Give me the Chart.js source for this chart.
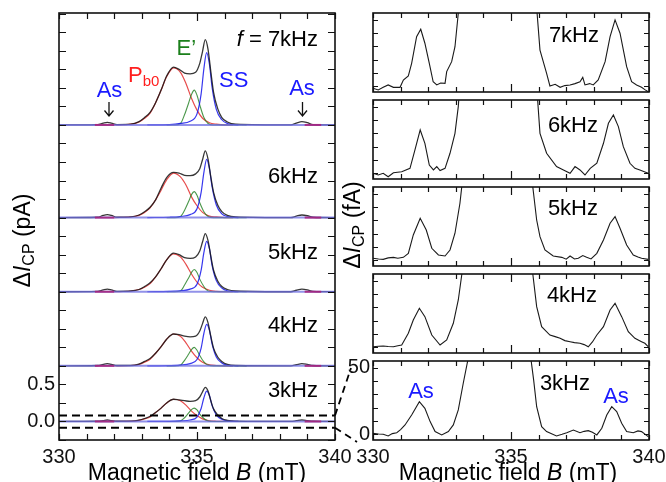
<!DOCTYPE html>
<html><head><meta charset="utf-8">
<script src="https://cdn.jsdelivr.net/npm/chart.js@4/dist/chart.umd.min.js"></script>
<style>
html,body{margin:0;padding:0;background:#fff;}
#wrap{position:relative;width:666px;height:482px;overflow:hidden;background:#fff;}
#wrap canvas{position:absolute;}
</style></head><body>
<div id="wrap"></div>
<script>
// ---------------- DATA ----------------
const freqLabels = ['7kHz', '6kHz', '5kHz', '4kHz', '3kHz'];
const offsets = [4.0, 2.75, 1.75, 0.75, 0];          // vertical offsets of the stacked spectra (pA)
const xTickLabels = [330, 335, 340];
const leftYLabels = [0, 0.5];
const rightYLabels = [0, 50];
const zoomBoxLevels = [0.08, -0.085];

const fieldsTotal = [330.0, 331.4, 331.6, 331.75, 331.9, 332.1, 332.6, 332.9, 333.1, 333.3, 333.5, 333.7, 333.9, 334.15, 334.35, 334.55, 334.75, 334.95, 335.1, 335.2, 335.3, 335.4, 335.5, 335.6, 335.75, 335.9, 336.1, 336.4, 338.4, 338.6, 338.8, 339.0, 339.2, 340.0];
const total7k = [0, 0.005, 0.025, 0.035, 0.025, 0.005, 0.01, 0.045, 0.10, 0.17, 0.30, 0.47, 0.66, 0.78, 0.75, 0.70, 0.69, 0.71, 0.83, 0.99, 1.15, 1.02, 0.72, 0.44, 0.22, 0.10, 0.04, 0.01, 0, 0.025, 0.045, 0.03, 0.005, 0];
const total6k = [0, 0.005, 0.03, 0.04, 0.03, 0.005, 0.01, 0.035, 0.08, 0.14, 0.24, 0.40, 0.54, 0.61, 0.60, 0.57, 0.565, 0.59, 0.66, 0.78, 0.90, 0.79, 0.55, 0.34, 0.17, 0.08, 0.03, 0.01, 0, 0.02, 0.035, 0.025, 0.005, 0];
const total5k = [0, 0.005, 0.025, 0.035, 0.025, 0.005, 0.01, 0.03, 0.07, 0.12, 0.20, 0.31, 0.43, 0.52, 0.50, 0.46, 0.45, 0.47, 0.55, 0.67, 0.785, 0.69, 0.48, 0.29, 0.145, 0.07, 0.03, 0.01, 0, 0.02, 0.035, 0.025, 0.005, 0];
const total4k = [0, 0.005, 0.02, 0.03, 0.02, 0.005, 0.005, 0.025, 0.06, 0.10, 0.17, 0.26, 0.36, 0.43, 0.42, 0.40, 0.39, 0.40, 0.47, 0.57, 0.66, 0.58, 0.40, 0.24, 0.12, 0.06, 0.02, 0.005, 0, 0.015, 0.03, 0.02, 0.005, 0];
const total3k = [0, 0.003, 0.012, 0.02, 0.012, 0.003, 0.004, 0.018, 0.04, 0.07, 0.12, 0.18, 0.25, 0.30, 0.29, 0.28, 0.27, 0.28, 0.33, 0.40, 0.46, 0.41, 0.28, 0.17, 0.09, 0.04, 0.015, 0.004, 0, 0.01, 0.02, 0.012, 0.003, 0];

const fieldsPb0 = [332.0, 332.6, 332.9, 333.1, 333.3, 333.5, 333.7, 333.9, 334.15, 334.4, 334.6, 334.8, 335.0, 335.2, 335.45, 335.7, 336.0, 336.3];
const pb0_7k = [0, 0.01, 0.04, 0.09, 0.16, 0.30, 0.47, 0.65, 0.77, 0.71, 0.56, 0.36, 0.20, 0.09, 0.03, 0.01, 0, 0];
const pb0_6k = [0, 0.01, 0.03, 0.07, 0.13, 0.24, 0.37, 0.51, 0.60, 0.55, 0.44, 0.28, 0.16, 0.07, 0.02, 0.01, 0, 0];
const pb0_5k = [0, 0.01, 0.03, 0.06, 0.11, 0.20, 0.31, 0.43, 0.51, 0.47, 0.37, 0.24, 0.13, 0.06, 0.02, 0.005, 0, 0];
const pb0_4k = [0, 0.005, 0.02, 0.05, 0.09, 0.17, 0.26, 0.36, 0.43, 0.40, 0.31, 0.20, 0.11, 0.05, 0.015, 0.005, 0, 0];
const pb0_3k = [0, 0.005, 0.015, 0.035, 0.06, 0.12, 0.18, 0.25, 0.30, 0.28, 0.22, 0.14, 0.08, 0.035, 0.01, 0.003, 0, 0];

const fieldsE = [333.9, 334.2, 334.4, 334.55, 334.7, 334.8, 334.9, 335.0, 335.1, 335.25, 335.4, 335.6, 336.0, 336.8];
const e_7k = [0, 0, 0.02, 0.14, 0.30, 0.41, 0.47, 0.40, 0.27, 0.10, 0.02, 0, 0, 0];
const e_6k = [0, 0, 0.015, 0.10, 0.22, 0.31, 0.35, 0.30, 0.20, 0.08, 0.015, 0, 0, 0];
const e_5k = [0, 0, 0.01, 0.09, 0.19, 0.26, 0.30, 0.26, 0.17, 0.07, 0.01, 0, 0, 0];
const e_4k = [0, 0, 0.01, 0.075, 0.16, 0.22, 0.25, 0.21, 0.14, 0.055, 0.01, 0, 0, 0];
const e_3k = [0, 0, 0.007, 0.05, 0.115, 0.16, 0.18, 0.155, 0.10, 0.04, 0.007, 0, 0, 0];

const fieldsSS = [333.2, 334.0, 334.4, 334.75, 335.0, 335.15, 335.25, 335.35, 335.45, 335.55, 335.7, 335.9, 336.1, 336.5];
const ss_7k = [0, 0.005, 0.02, 0.05, 0.15, 0.42, 0.76, 0.975, 0.82, 0.50, 0.21, 0.07, 0.02, 0];
const ss_6k = [0, 0.005, 0.015, 0.04, 0.12, 0.34, 0.61, 0.785, 0.66, 0.41, 0.17, 0.05, 0.015, 0];
const ss_5k = [0, 0.004, 0.013, 0.035, 0.10, 0.29, 0.53, 0.68, 0.58, 0.35, 0.15, 0.05, 0.013, 0];
const ss_4k = [0, 0.003, 0.01, 0.03, 0.085, 0.24, 0.44, 0.56, 0.48, 0.29, 0.12, 0.04, 0.01, 0];
const ss_3k = [0, 0.002, 0.008, 0.02, 0.06, 0.175, 0.32, 0.41, 0.35, 0.21, 0.09, 0.03, 0.008, 0];

const baselineFields = [330, 340];
const asBaseLeft = [331.3, 332.0];
const asBaseRight = [338.9, 339.5];

// right-hand magnified spectra (fA)
const rf7 = [330.0, 330.19, 330.37, 330.55, 330.74, 330.98, 331.10, 331.28, 331.40, 331.58, 331.73, 331.88, 332.04, 332.18, 332.31, 332.45, 332.61, 332.67, 332.85, 332.97, 333.09, 333.25, 333.6, 334.2, 335.3, 335.7, 335.85, 336.05, 336.29, 336.41, 336.6, 336.78, 336.95, 337.14, 337.32, 337.50, 337.60, 337.68, 337.85, 337.98, 338.16, 338.41, 338.59, 338.77, 338.95, 339.19, 339.37, 339.55, 339.73, 339.85, 339.97];
const rv7 = [-1.5, -2.8, -0.8, 1.0, -0.8, -0.8, 4.7, 7.7, 17.2, 37.2, 42.8, 32.3, 17.2, 3.4, 1.0, 2.5, 2.2, 11, 18.5, 29.7, 54.8, 120, 400, 800, 1150, 400, 80, 27.2, 9.7, 0.2, 1.5, -0.8, 0.5, 1.0, 2.0, 3.4, 6.7, 1.0, 2.0, 1.0, 4.7, 18.5, 37.2, 49.8, 39.8, 14.7, 3.4, 1.0, -0.8, -2.5, -4.1];
const rf6 = [330.0, 330.19, 330.37, 330.55, 330.74, 331.04, 331.34, 331.52, 331.71, 331.88, 332.04, 332.19, 332.31, 332.43, 332.61, 332.79, 332.97, 333.09, 333.3, 333.7, 334.3, 335.3, 335.7, 335.88, 336.05, 336.29, 336.65, 336.90, 337.14, 337.32, 337.50, 337.68, 337.87, 338.11, 338.35, 338.53, 338.71, 338.89, 339.07, 339.31, 339.49, 339.67, 339.97];
const rv6 = [0.0, -1.3, 0.0, -2.6, 0.4, 1.2, 3.7, 17.5, 32.5, 22.5, 6.2, 2.5, 5.0, 2.0, 3.7, 15, 30, 50, 110, 400, 800, 1100, 300, 80, 30, 15, 5, 2.5, 0, 5, 2.5, -1.3, 3.7, 7.5, 22.5, 37.5, 43.8, 35, 20, 7.5, 3.7, 2.5, 0];
const rf5 = [330.0, 330.2, 330.37, 330.55, 330.74, 330.9, 331.10, 331.28, 331.46, 331.71, 331.93, 332.13, 332.37, 332.61, 332.79, 332.97, 333.15, 333.35, 333.7, 334.3, 335.3, 335.6, 335.79, 335.93, 336.05, 336.23, 336.53, 336.84, 337.0, 337.14, 337.3, 337.44, 337.6, 337.74, 337.9, 338.11, 338.35, 338.59, 338.77, 338.95, 339.19, 339.43, 339.6, 339.73, 339.97];
const rv5 = [1.5, 1.0, 0.7, 1.8, 2.2, 1.5, 2.2, 5.2, 19, 31.5, 22.7, 9, 4, 3.2, 7.7, 20.3, 42.8, 80, 400, 800, 1100, 300, 55, 30.2, 17.7, 7.7, 3.2, 2.2, 0.8, 3.2, 1.0, 1.5, 3.5, 2.2, 1.0, 5.2, 15.2, 27.8, 32.8, 24, 11.5, 4, 2.5, 1.5, 0.7];
const rf4 = [330.0, 330.2, 330.37, 330.55, 330.74, 330.9, 331.04, 331.28, 331.46, 331.68, 331.88, 332.13, 332.43, 332.67, 332.91, 333.09, 333.22, 333.4, 333.8, 334.4, 335.3, 335.6, 335.79, 335.93, 336.11, 336.41, 336.6, 336.78, 336.95, 337.14, 337.3, 337.50, 337.65, 337.80, 337.95, 338.11, 338.35, 338.59, 338.77, 339.01, 339.25, 339.49, 339.73, 339.85, 339.97];
const rv4 = [0.4, 0.8, 1.0, 0.6, 0.4, 1.2, 1.7, 10.5, 20.5, 29.3, 23, 9.2, 1.7, 5.5, 18, 35.5, 55, 120, 450, 850, 1100, 300, 55, 30.5, 15.5, 9.2, 8, 6.7, 5, 4.2, 3.5, 3, 2, 0.4, 4, 9.2, 15.5, 28, 33, 23, 11.7, 6.7, 4.2, 3, 0.4];
const rf3 = [330.0, 330.2, 330.37, 330.55, 330.7, 330.86, 331.0, 331.16, 331.40, 331.68, 331.88, 332.07, 332.25, 332.49, 332.73, 332.91, 333.09, 333.27, 333.43, 333.6, 334.0, 334.6, 335.3, 335.55, 335.7, 335.82, 335.93, 336.11, 336.29, 336.45, 336.65, 336.85, 337.02, 337.26, 337.50, 337.65, 337.80, 337.95, 338.11, 338.29, 338.47, 338.65, 338.83, 339.01, 339.19, 339.43, 339.6, 339.73, 339.97];
const rv3 = [0.7, 0.2, 0, -1.3, 0.5, 1.2, 3.5, 7, 14.5, 24.5, 19.5, 9.5, 2, -0.5, 2, 7, 18.3, 38.3, 55, 110, 450, 850, 1100, 400, 60, 40.8, 20.7, 5.7, 2, 0.5, -1.3, 0, 1.2, 3.2, 1.2, 2.2, 2.7, 1.5, -0.5, 4.5, 14.5, 20.7, 17, 8.3, 2, 1.2, 2.5, 2, -1.8];

// ---------------- HELPERS ----------------
const FAM = '"Liberation Sans", Arial, Helvetica, sans-serif';
Chart.defaults.font.family = FAM;
Chart.defaults.color = '#000';
const BLUE = '#1a1aff', RED = '#ff1f1f', GREEN = '#1b7f1b';

function pts(xs, ys, off) { return xs.map((x, i) => ({x: x, y: ys[i] + (off || 0)})); }
function flat(xs, v) { return xs.map(x => ({x: x, y: v})); }

function drawRich(ctx, o) {
  ctx.save();
  ctx.translate(o.x, o.y);
  if (o.rot) ctx.rotate(o.rot);
  const fontOf = p => (p.it ? 'italic ' : '') + (p.sub ? Math.round(o.size * 0.68) : o.size) + 'px ' + FAM;
  let w = 0;
  o.parts.forEach(p => { ctx.font = fontOf(p); p.w = ctx.measureText(p.t).width; w += p.w; });
  let x = o.align === 'center' ? -w / 2 : (o.align === 'right' ? -w : 0);
  ctx.textBaseline = 'alphabetic'; ctx.textAlign = 'left';
  o.parts.forEach(p => {
    ctx.font = fontOf(p);
    ctx.fillStyle = p.color || o.color || '#000';
    ctx.fillText(p.t, x, p.sub ? o.size * 0.2 : 0);
    x += p.w;
  });
  ctx.restore();
}

function framePlugin(o) {
  return {id: 'frameTicks', afterDatasetsDraw(chart) {
    const ctx = chart.ctx, a = chart.chartArea, xs = chart.scales.x, ys = chart.scales.y;
    ctx.save();
    ctx.strokeStyle = '#111'; ctx.lineWidth = 1.2;
    ctx.beginPath();
    o.xTicks.forEach(v => {
      const p = Math.round(xs.getPixelForValue(v)) + 0.5;
      const L = o.xMajor.includes(v) ? o.majorLen : o.minorLen;
      ctx.moveTo(p, a.bottom); ctx.lineTo(p, a.bottom - L);
      ctx.moveTo(p, a.top); ctx.lineTo(p, a.top + L);
    });
    o.yTicks.forEach(v => {
      const p = Math.round(ys.getPixelForValue(v)) + 0.5;
      ctx.moveTo(a.left, p); ctx.lineTo(a.left + o.yLen, p);
      ctx.moveTo(a.right, p); ctx.lineTo(a.right - o.yLen, p);
    });
    ctx.stroke();
    ctx.lineWidth = 1.6; ctx.strokeStyle = '#111';
    ctx.strokeRect(a.left, a.top, a.right - a.left, a.bottom - a.top);
    ctx.restore();
  }};
}

function textPlugin(offX, offY, items, extra) {
  return {id: 'texts', afterDraw(chart) {
    const ctx = chart.ctx;
    ctx.save();
    ctx.translate(-offX, -offY);
    items.forEach(t => drawRich(ctx, t));
    if (extra) extra(ctx, chart);
    ctx.restore();
  }};
}

function makeCanvas(left, top, w, h) {
  const c = document.createElement('canvas');
  c.width = w; c.height = h;
  c.style.left = left + 'px'; c.style.top = top + 'px';
  c.style.width = w + 'px'; c.style.height = h + 'px';
  document.getElementById('wrap').appendChild(c);
  return c;
}

const xTicksAll = [330, 331, 332, 333, 334, 335, 336, 337, 338, 339, 340];
const leftYTicks = []; for (let k = -1; k <= 22; k++) leftYTicks.push(k * 0.25);
const rightYTicks = [0, 10, 20, 30, 40, 50];
const near = (v, arr) => arr.some(t => Math.abs(v - t) < 1e-6);

// ---------------- LEFT CHART ----------------
const totals = [total7k, total6k, total5k, total4k, total3k];
const pb0s = [pb0_7k, pb0_6k, pb0_5k, pb0_4k, pb0_3k];
const es = [e_7k, e_6k, e_5k, e_4k, e_3k];
const sss = [ss_7k, ss_6k, ss_5k, ss_4k, ss_3k];

const leftDatasets = [];
zoomBoxLevels.forEach(v => leftDatasets.push({data: flat(baselineFields, v), borderColor: '#000', borderWidth: 2, borderDash: [8, 5], fill: false}));
freqLabels.forEach((f, i) => {
  const o = offsets[i];
  leftDatasets.push({data: flat(asBaseLeft, o), borderColor: 'rgba(170,30,120,0.85)', borderWidth: 2});
  leftDatasets.push({data: flat(asBaseRight, o), borderColor: 'rgba(170,30,120,0.85)', borderWidth: 2});
  leftDatasets.push({data: flat(baselineFields, o), borderColor: 'rgba(110,110,225,0.75)', borderWidth: 2});
  leftDatasets.push({data: pts(fieldsTotal, totals[i], o), borderColor: 'rgba(20,20,20,0.85)', borderWidth: 1.3});
  leftDatasets.push({data: pts(fieldsSS, sss[i], o), borderColor: 'rgba(20,20,235,0.85)', borderWidth: 1.2});
  leftDatasets.push({data: pts(fieldsE, es[i], o), borderColor: 'rgba(30,125,30,0.8)', borderWidth: 1.1});
  leftDatasets.push({data: pts(fieldsPb0, pb0s[i], o), borderColor: 'rgba(225,30,30,0.8)', borderWidth: 1.2});
});

const leftTop = -20;
const leftCanvas = makeCanvas(0, leftTop, 666, 502);
const leftTexts = [
  {x: 318, y: 45.5, align: 'right', size: 22, parts: [{t: 'f', it: true}, {t: ' = ' + freqLabels[0]}]},
  {x: 318, y: 183, align: 'right', size: 22, parts: [{t: freqLabels[1]}]},
  {x: 318, y: 258.5, align: 'right', size: 22, parts: [{t: freqLabels[2]}]},
  {x: 318, y: 332, align: 'right', size: 22, parts: [{t: freqLabels[3]}]},
  {x: 318, y: 396.5, align: 'right', size: 22, parts: [{t: freqLabels[4]}]},
  {x: 109.5, y: 96.5, align: 'center', size: 22, color: BLUE, parts: [{t: 'As'}]},
  {x: 302, y: 95, align: 'center', size: 22, color: BLUE, parts: [{t: 'As'}]},
  {x: 128, y: 81.5, align: 'left', size: 22, color: RED, parts: [{t: 'P'}, {t: 'b0', sub: true}]},
  {x: 176.5, y: 55, align: 'left', size: 22, color: GREEN, parts: [{t: 'E’'}]},
  {x: 219, y: 86.5, align: 'left', size: 22, color: BLUE, parts: [{t: 'SS'}]},
  {x: 197, y: 480, align: 'center', size: 23, parts: [{t: 'Magnetic field '}, {t: 'B', it: true}, {t: ' (mT)'}]},
  {x: 29.5, y: 240.5, rot: -Math.PI / 2, align: 'center', size: 23, parts: [{t: 'Δ'}, {t: 'I', it: true}, {t: 'CP', sub: true}, {t: ' (pA)'}]},
  {x: 359.5, y: 225, rot: -Math.PI / 2, align: 'center', size: 23, parts: [{t: 'Δ'}, {t: 'I', it: true}, {t: 'CP', sub: true}, {t: ' (fA)'}]}
];
function leftExtra(ctx, chart) {
  const ys = chart.scales.y, a = chart.chartArea;
  ctx.strokeStyle = '#111'; ctx.lineWidth = 1.3;
  [109, 302.5].forEach(x => {
    ctx.beginPath();
    ctx.moveTo(x, 102); ctx.lineTo(x, 116);
    ctx.moveTo(x - 4.5, 110.5); ctx.lineTo(x, 116); ctx.lineTo(x + 4.5, 110.5);
    ctx.stroke();
  });
  ctx.strokeStyle = '#000'; ctx.lineWidth = 1.8; ctx.setLineDash([7, 5]);
  const y1 = ys.getPixelForValue(zoomBoxLevels[0]) + leftTop, y2 = ys.getPixelForValue(zoomBoxLevels[1]) + leftTop;
  ctx.beginPath();
  ctx.moveTo(a.right, y1); ctx.lineTo(351, 368);
  ctx.moveTo(a.right, y2); ctx.lineTo(357, 442);
  ctx.stroke();
  ctx.setLineDash([]);
}

new Chart(leftCanvas, {
  type: 'line',
  data: {datasets: leftDatasets},
  options: {
    responsive: false, animation: false, events: [], devicePixelRatio: 1,
    layout: {padding: {top: 33, right: 331, left: 0, bottom: 0}},
    plugins: {legend: {display: false}, tooltip: {enabled: false}},
    elements: {point: {radius: 0}, line: {cubicInterpolationMode: 'monotone', fill: false}},
    scales: {
      x: {type: 'linear', min: 330, max: 340, afterFit: s => { s.height = 42; },
          grid: {display: false, drawTicks: false}, border: {display: false},
          ticks: {stepSize: 1, autoSkip: false, maxRotation: 0, padding: 5, font: {size: 20}, color: '#111', includeBounds: false,
                  callback: v => near(v, xTickLabels) ? String(v) : ''}},
      y: {type: 'linear', min: -0.25, max: 5.51, afterFit: s => { s.width = 59; },
          grid: {display: false, drawTicks: false}, border: {display: false},
          ticks: {stepSize: 0.25, autoSkip: false, padding: 4, font: {size: 20}, color: '#111', includeBounds: false,
                  callback: v => near(v, leftYLabels) ? Number(v).toFixed(1) : ''}}
    }
  },
  plugins: [
    framePlugin({xTicks: xTicksAll, xMajor: [335], majorLen: 8, minorLen: 6, yTicks: leftYTicks, yLen: 7}),
    textPlugin(0, leftTop, leftTexts, leftExtra)
  ]
});

// ---------------- RIGHT CHARTS ----------------
const rightFields = [rf7, rf6, rf5, rf4, rf3];
const rightVals = [rv7, rv6, rv5, rv4, rv3];
const rightTops = [13, 100, 187, 274, 361];
const rightLabelPos = [[599, 41.5], [598, 131.5], [598, 215], [597, 301.5], [590, 390]];

freqLabels.forEach((f, i) => {
  const last = i === freqLabels.length - 1;
  const cTop = rightTops[i] - 20;
  const cH = last ? 482 - cTop : 119;
  const canvas = makeCanvas(340, cTop, 346, cH);
  const items = [{x: rightLabelPos[i][0], y: rightLabelPos[i][1], align: 'right', size: 22, parts: [{t: f}]}];
  if (last) {
    items.push({x: 421, y: 398, align: 'center', size: 22, color: BLUE, parts: [{t: 'As'}]});
    items.push({x: 616, y: 403, align: 'center', size: 22, color: BLUE, parts: [{t: 'As'}]});
    items.push({x: 508, y: 480, align: 'center', size: 23, parts: [{t: 'Magnetic field '}, {t: 'B', it: true}, {t: ' (mT)'}]});
  }
  const xScale = {type: 'linear', min: 330, max: 340, display: last,
      grid: {display: false, drawTicks: false}, border: {display: false},
      ticks: {stepSize: 1, autoSkip: false, maxRotation: 0, padding: 5, font: {size: 20}, color: '#111', includeBounds: false,
              callback: v => near(v, xTickLabels) ? String(v) : ''}};
  const yScale = {type: 'linear', min: -4.3, max: 55, display: last,
      grid: {display: false, drawTicks: false}, border: {display: false},
      ticks: {stepSize: 10, autoSkip: false, padding: 3, font: {size: 20}, color: '#111', includeBounds: false,
              callback: v => near(v, rightYLabels) ? String(v) : ''}};
  if (last) {
    xScale.afterFit = s => { s.height = 42; };
    yScale.afterFit = s => { s.width = 33; };
  }
  new Chart(canvas, {
    type: 'line',
    data: {datasets: [{data: pts(rightFields[i], rightVals[i]), borderColor: '#1a1a1a', borderWidth: 1.1, tension: 0, fill: false}]},
    options: {
      responsive: false, animation: false, events: [], devicePixelRatio: 1,
      layout: {padding: last ? {top: 20, right: 37, left: 0, bottom: 0} : {top: 20, right: 37, left: 33, bottom: 20}},
      plugins: {legend: {display: false}, tooltip: {enabled: false}},
      elements: {point: {radius: 0}},
      scales: {x: xScale, y: yScale}
    },
    plugins: [
      framePlugin({xTicks: xTicksAll, xMajor: [335], majorLen: 8, minorLen: 5, yTicks: rightYTicks, yLen: 5}),
      textPlugin(340, cTop, items)
    ]
  });
});
</script>
</body></html>
